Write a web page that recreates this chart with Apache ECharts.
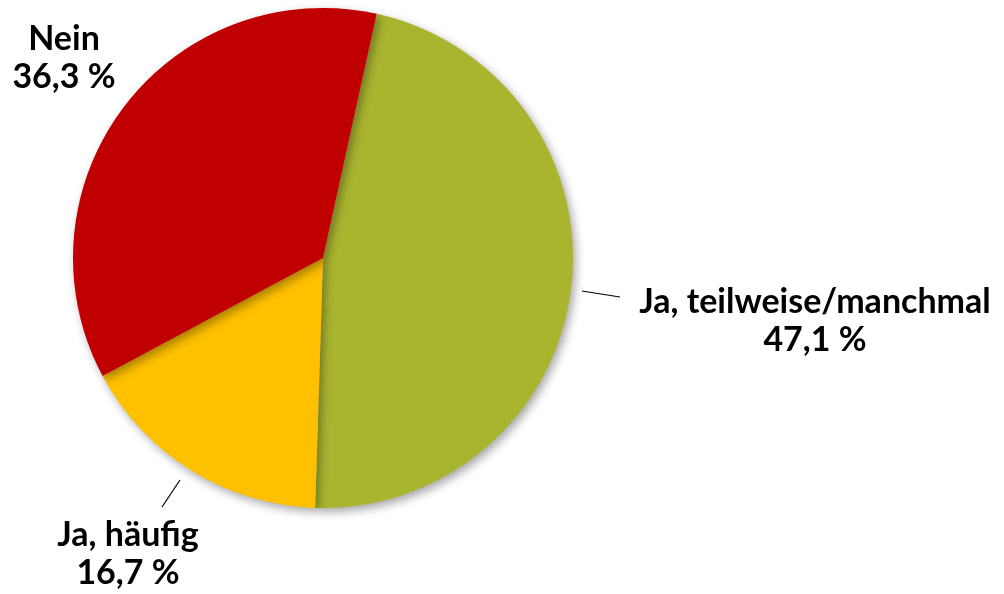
<html>
<head>
    <meta http-equiv="Content-Type" content="text/html; charset=utf-8">
    <script src="https://cdn.jsdelivr.net/npm/echarts@6/dist/echarts.min.js"></script>
    <style>
        * {
            margin: 0;
            padding: 0;
        }

        #main {
            width: 1004px;
            height: 594px;
            background: #ffffff;
        }
    </style>
</head>
<body>
<div id="main"></div>
<script type="text/javascript">
    // Antworten und Anteile in Prozent
    let categories = ['Ja, teilweise/manchmal', 'Ja, häufig', 'Nein'];
    let percents = [47.1, 16.7, 36.3];
    let sliceColors = ['#A9B52F', '#FFC000', '#C00000'];

    // Label-Platz (Mitte des Textblocks) und Linie, je Segment
    let labelSpots = [
        {x: 815, y: 321, line: [[582, 291], [620, 297]]},
        {x: 128, y: 554, line: [[180, 480], [162, 507]]},
        {x: 64, y: 58, line: null}
    ];

    function fmt(v) {
        return v.toFixed(1).replace('.', ',') + ' %';
    }

    let pieData = categories.map(function (name, i) {
        return {
            name: name,
            value: percents[i],
            itemStyle: {color: sliceColors[i]},
            labelLine: {show: labelSpots[i].line !== null}
        };
    });

    let myChart = echarts.init(document.getElementById('main'));

    let option = {
        animation: false,
        series: [
            {
                type: 'pie',
                center: [323, 258],
                radius: 250,
                startAngle: 77.6,
                clockwise: true,
                avoidLabelOverlap: false,
                itemStyle: {
                    shadowBlur: 10,
                    shadowOffsetX: 3,
                    shadowOffsetY: 4,
                    shadowColor: 'rgba(0,0,0,0.35)'
                },
                label: {
                    show: true,
                    position: 'outside',
                    formatter: function (p) {
                        return p.name + '\n' + fmt(p.value);
                    },
                    fontFamily: 'Lato',
                    fontWeight: 'bold',
                    fontSize: 34,
                    lineHeight: 38,
                    color: '#000000',
                    align: 'center'
                },
                labelLine: {
                    lineStyle: {color: '#000000', width: 1.2}
                },
                labelLayout: function (params) {
                    let s = labelSpots[params.dataIndex];
                    let r = {
                        x: s.x,
                        y: s.y,
                        align: 'center',
                        verticalAlign: 'middle'
                    };
                    if (s.line) {
                        r.labelLinePoints = s.line.concat([s.line[1]]);
                    }
                    return r;
                },
                emphasis: {disabled: true},
                data: pieData
            }
        ]
    };

    myChart.setOption(option);
</script>
</body>
</html>
